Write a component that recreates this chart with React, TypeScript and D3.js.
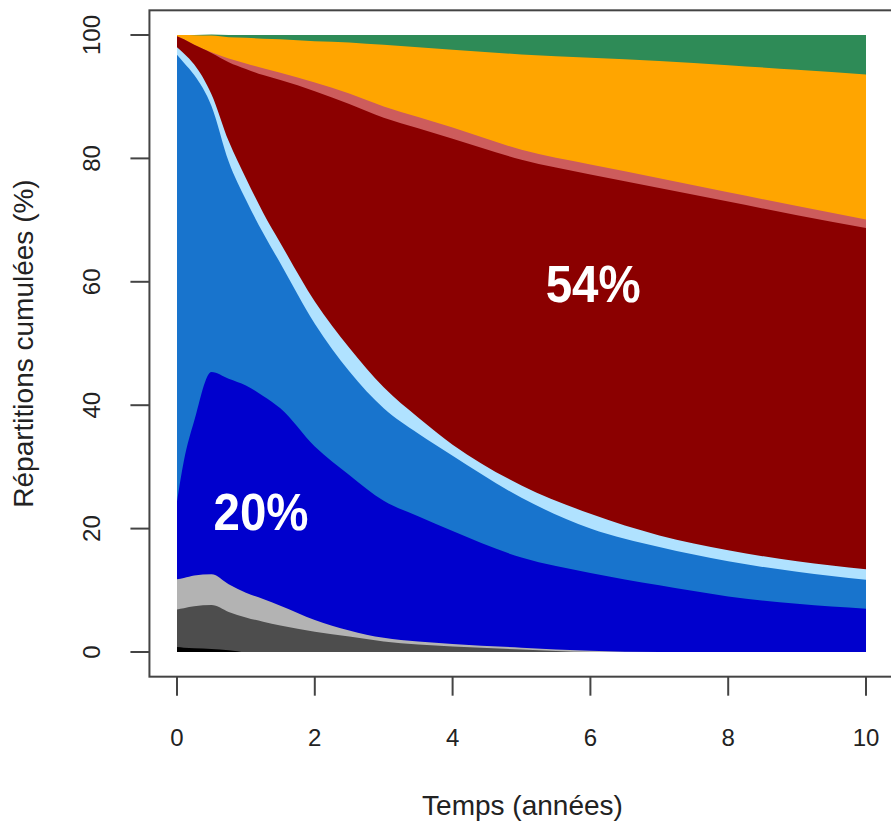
import React, { useEffect } from "react";
import * as d3 from "d3";

// Time points (years)
const times = [0, 0.1, 0.25, 0.5, 0.75, 1, 1.25, 1.5, 2, 2.5, 3, 3.5, 4, 5, 6, 7, 8, 9, 10];

// Shares (%) of each state (bottom to top)
const sBlack = [0.8, 0.7, 0.6, 0.5, 0.3, 0, 0, 0, 0, 0, 0, 0, 0, 0, 0, 0, 0, 0, 0];
const sDarkGray = [6.1, 6.4, 6.8, 7.1, 6.2, 5.6, 4.9, 4.3, 3.3, 2.5, 1.7, 1.2, 0.9, 0.4, 0, 0, 0, 0, 0];
const sLightGray = [4.9, 4.9, 5.0, 5.0, 4.5, 4.0, 3.7, 3.2, 1.9, 1.0, 0.6, 0.5, 0.4, 0.3, 0.2, 0, 0, 0, 0];
const sBlue = [12.6, 19.0, 25.1, 32.8, 33.3, 33.6, 32.9, 32.0, 28.1, 25.2, 22.2, 20.3, 18.3, 14.6, 12.6, 10.8, 9.0, 7.8, 7.0];
const sMidBlue = [72.4, 64.5, 56.0, 43.1, 35.2, 30.1, 26.4, 23.5, 19.9, 16.8, 15.0, 13.4, 12.2, 9.7, 7.2, 6.2, 5.7, 5.2, 4.7];
const sSkyBlue = [1.2, 1.5, 1.7, 1.9, 3.3, 3.5, 3.3, 3.3, 3.6, 3.8, 3.4, 2.6, 1.8, 2.0, 2.4, 1.9, 1.8, 1.7, 1.7];
const sDarkRed = [1.8, 2.3, 3.2, 6.7, 12.8, 17.7, 22.3, 26.4, 34.1, 39.5, 43.7, 46.9, 49.6, 52.8, 55.0, 56.3, 56.5, 56.1, 55.3];
const sIndianRed = [0, 0, 0, 0.1, 0.6, 0.9, 1.1, 1.2, 1.4, 1.7, 1.8, 1.8, 1.8, 1.6, 1.6, 1.6, 1.5, 1.5, 1.4];
const sOrange = [0.2, 0.7, 1.55, 2.7, 3.45, 4.15, 4.8, 5.4, 6.7, 8.3, 10.0, 11.3, 12.6, 15.45, 17.3, 19.0, 20.6, 22.05, 23.5];
const sGreen = [0, 0, 0.05, 0.2, 0.35, 0.45, 0.6, 0.7, 1.0, 1.2, 1.6, 2.0, 2.4, 3.15, 3.7, 4.2, 4.9, 5.65, 6.4];

const series = [sBlack, sDarkGray, sLightGray, sBlue, sMidBlue, sSkyBlue, sDarkRed, sIndianRed, sOrange, sGreen];
const colors = ["#000000", "#4d4d4d", "#b3b3b3", "#0000cd", "#1874cd", "#b0e2ff", "#8b0000", "#cd5c5c", "#ffa500", "#2e8b57"];

const xTicks = [0, 2, 4, 6, 8, 10];
const yTicks = [0, 20, 40, 60, 80, 100];

const labels = [
  { text: "20%", t: 1.22, v: 19.7 },
  { text: "54%", t: 6.04, v: 56.7 },
];

const W = 891;
const H = 821;
const FONT = "'Liberation Sans', Arial, Helvetica, sans-serif";

export default function App() {
  useEffect(() => {
    document.body.style.margin = "0";
  }, []);

  const x = d3.scaleLinear().domain([0, 10]).range([177, 866]);
  const y = d3.scaleLinear().domain([0, 100]).range([652, 35]);

  // cumulative tops
  const cum: number[][] = [];
  series.forEach((s, k) => {
    cum.push(s.map((v, i) => (k === 0 ? v : cum[k - 1][i] + v)));
  });

  const area = d3
    .area<number>()
    .x((_, i) => x(times[i]))
    .y0(() => y(0))
    .curve(d3.curveMonotoneX);

  const boxL = x(-0.4);
  const boxR = x(10.4);
  const boxT = y(104);
  const boxB = y(-4);

  const order = series.map((_, k) => k).reverse();

  return (
    <svg width={W} height={H} style={{ position: "absolute", left: 0, top: 0, background: "#fff" }}>
      <rect x={0} y={0} width={W} height={H} fill="#fff" />
      {order.map((k) => (
        <path
          key={k}
          d={area.y1((v) => y(v))(cum[k]) || ""}
          fill={colors[k]}
        />
      ))}
      {labels.map((l) => (
        <text
          key={l.text}
          x={x(l.t)}
          y={y(l.v)}
          textAnchor="middle"
          fontFamily={FONT}
          fontWeight="bold"
          fontSize={51}
          fill="#fff"
          textLength={95}
          lengthAdjust="spacingAndGlyphs"
        >
          {l.text}
        </text>
      ))}
      <rect x={boxL} y={boxT} width={boxR - boxL} height={boxB - boxT} fill="none" stroke="#444" strokeWidth={2} />
      {xTicks.map((t) => (
        <g key={"x" + t}>
          <line x1={x(t)} x2={x(t)} y1={boxB} y2={boxB + 19} stroke="#444" strokeWidth={2} />
          <text x={x(t)} y={746} textAnchor="middle" fontFamily={FONT} fontSize={24} fill="#222">
            {t}
          </text>
        </g>
      ))}
      {yTicks.map((v) => (
        <g key={"y" + v}>
          <line x1={boxL - 19} x2={boxL} y1={y(v)} y2={y(v)} stroke="#444" strokeWidth={2} />
          <text
            transform={`translate(100,${y(v)}) rotate(-90)`}
            textAnchor="middle"
            fontFamily={FONT}
            fontSize={24}
            fill="#222"
          >
            {v}
          </text>
        </g>
      ))}
      <text x={(x(0) + x(10)) / 2 + 1} y={815} textAnchor="middle" fontFamily={FONT} fontSize={28} fill="#222">
        Temps (années)
      </text>
      <text
        transform={`translate(33,${(y(0) + y(100)) / 2}) rotate(-90)`}
        textAnchor="middle"
        fontFamily={FONT}
        fontSize={28}
        fill="#222"
      >
        Répartitions cumulées (%)
      </text>
    </svg>
  );
}
